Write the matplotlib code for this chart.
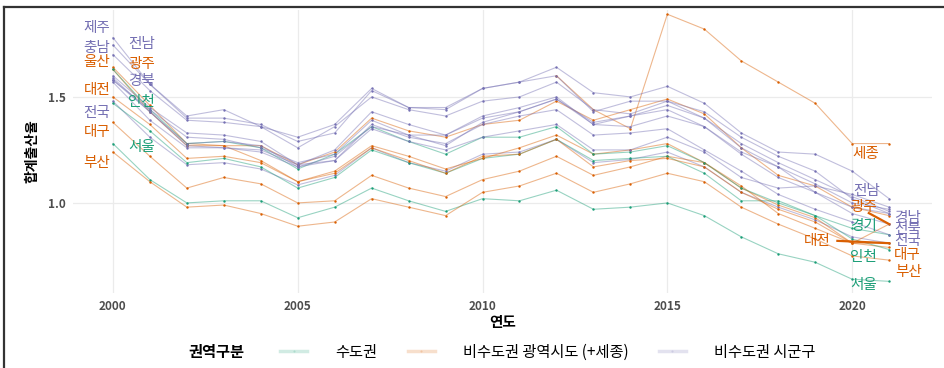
import matplotlib
matplotlib.use("Agg")
import matplotlib.pyplot as plt
from matplotlib.lines import Line2D
import numpy as np

plt.rcParams['font.family'] = ['Noto Sans CJK KR', 'DejaVu Sans']

years = list(range(2000, 2022))

# 합계출산율, 2000-2021
jeonguk = [1.48, 1.31, 1.18, 1.19, 1.16, 1.085, 1.13, 1.26, 1.19, 1.15, 1.23, 1.24, 1.30, 1.19, 1.205, 1.24, 1.17, 1.05, 0.98, 0.92, 0.84, 0.81]
seoul = [1.28, 1.11, 1.00, 1.01, 1.01, 0.93, 0.98, 1.07, 1.01, 0.96, 1.02, 1.01, 1.06, 0.97, 0.98, 1.00, 0.94, 0.84, 0.76, 0.72, 0.64, 0.63]
busan = [1.24, 1.10, 0.98, 0.99, 0.95, 0.89, 0.91, 1.02, 0.98, 0.94, 1.05, 1.08, 1.14, 1.05, 1.09, 1.14, 1.10, 0.98, 0.90, 0.83, 0.75, 0.73]
daegu = [1.38, 1.22, 1.07, 1.12, 1.09, 1.00, 1.01, 1.13, 1.07, 1.03, 1.11, 1.15, 1.22, 1.13, 1.17, 1.22, 1.19, 1.07, 0.99, 0.93, 0.81, 0.79]
incheon = [1.47, 1.34, 1.19, 1.21, 1.17, 1.07, 1.12, 1.25, 1.19, 1.14, 1.21, 1.23, 1.30, 1.20, 1.21, 1.22, 1.14, 1.01, 1.01, 0.94, 0.83, 0.78]
gwangju = [1.63, 1.43, 1.27, 1.27, 1.20, 1.10, 1.14, 1.26, 1.20, 1.14, 1.22, 1.23, 1.30, 1.17, 1.20, 1.21, 1.17, 1.05, 0.97, 0.91, 0.81, 0.90]
daejeon = [1.50, 1.37, 1.21, 1.22, 1.19, 1.10, 1.15, 1.27, 1.22, 1.16, 1.21, 1.26, 1.32, 1.23, 1.25, 1.28, 1.19, 1.08, 0.95, 0.88, 0.81, 0.81]
ulsan = [1.64, 1.46, 1.28, 1.27, 1.27, 1.18, 1.24, 1.40, 1.34, 1.31, 1.37, 1.39, 1.48, 1.39, 1.44, 1.49, 1.42, 1.26, 1.13, 1.08, 0.98, 0.94]
sejong = [None] * 12 + [1.60, 1.44, 1.35, 1.89, 1.82, 1.67, 1.57, 1.47, 1.28, 1.28]
gyeonggi = [1.63, 1.44, 1.28, 1.29, 1.26, 1.16, 1.23, 1.36, 1.29, 1.23, 1.31, 1.31, 1.36, 1.23, 1.24, 1.27, 1.19, 1.07, 1.00, 0.94, 0.88, 0.85]
gangwon = [1.57, 1.39, 1.26, 1.26, 1.25, 1.18, 1.20, 1.35, 1.29, 1.25, 1.31, 1.34, 1.37, 1.25, 1.25, 1.31, 1.24, 1.12, 1.07, 1.08, 1.04, 0.98]
chungbuk = [1.58, 1.44, 1.31, 1.30, 1.26, 1.19, 1.23, 1.39, 1.32, 1.32, 1.40, 1.43, 1.49, 1.37, 1.36, 1.41, 1.36, 1.24, 1.17, 1.05, 0.98, 0.95]
chungnam = [1.70, 1.53, 1.39, 1.38, 1.36, 1.26, 1.36, 1.50, 1.44, 1.41, 1.48, 1.50, 1.57, 1.44, 1.42, 1.48, 1.40, 1.28, 1.19, 1.11, 1.03, 0.96]
jeonbuk = [1.58, 1.43, 1.27, 1.26, 1.24, 1.17, 1.20, 1.37, 1.31, 1.28, 1.37, 1.41, 1.44, 1.32, 1.33, 1.35, 1.25, 1.15, 1.04, 0.97, 0.91, 0.85]
jeonnam = [1.745, 1.56, 1.40, 1.40, 1.37, 1.29, 1.33, 1.53, 1.45, 1.45, 1.54, 1.57, 1.64, 1.52, 1.50, 1.55, 1.47, 1.33, 1.24, 1.23, 1.15, 1.02]
gyeongbuk = [1.59, 1.43, 1.28, 1.29, 1.27, 1.17, 1.22, 1.36, 1.32, 1.27, 1.38, 1.43, 1.49, 1.38, 1.41, 1.46, 1.40, 1.26, 1.17, 1.09, 1.00, 0.97]
gyeongnam = [1.60, 1.45, 1.33, 1.32, 1.29, 1.18, 1.25, 1.43, 1.37, 1.32, 1.41, 1.45, 1.50, 1.37, 1.41, 1.44, 1.36, 1.23, 1.12, 1.05, 0.95, 0.90]
jeju = [1.78, 1.56, 1.41, 1.44, 1.36, 1.31, 1.37, 1.54, 1.45, 1.44, 1.54, 1.57, 1.60, 1.43, 1.48, 1.48, 1.43, 1.31, 1.22, 1.15, 1.02, 0.95]

regions = ['전국', '서울', '부산', '대구', '인천', '광주', '대전', '울산', '세종', '경기',
           '강원', '충북', '충남', '전북', '전남', '경북', '경남', '제주']
series = [jeonguk, seoul, busan, daegu, incheon, gwangju, daejeon, ulsan, sejong, gyeonggi,
          gangwon, chungbuk, chungnam, jeonbuk, jeonnam, gyeongbuk, gyeongnam, jeju]
groups = ['시군구', '수도권', '광역', '광역', '수도권', '광역', '광역', '광역', '광역', '수도권',
          '시군구', '시군구', '시군구', '시군구', '시군구', '시군구', '시군구', '시군구']

group_names = ['수도권', '광역', '시군구']
group_labels = ['수도권', '비수도권 광역시도 (+세종)', '비수도권 시군구']
colors = {'수도권': '#1B9E77', '광역': '#D95F02', '시군구': '#7570B3'}

# label placement (year, value) like ggrepel put them
start_labels = {'제주': (1999.57, 1.825), '충남': (1999.57, 1.731), '울산': (1999.57, 1.665),
                '대전': (1999.57, 1.533), '전국': (1999.57, 1.425), '대구': (1999.57, 1.335),
                '부산': (1999.57, 1.189), '전남': (2000.78, 1.75), '광주': (2000.78, 1.656),
                '경북': (2000.78, 1.575), '인천': (2000.78, 1.476), '서울': (2000.78, 1.264)}
end_labels = {'세종': (2020.38, 1.231), '전남': (2020.38, 1.057), '광주': (2020.3, 0.981),
              '경기': (2020.3, 0.892), '대전': (2019.05, 0.821), '인천': (2020.3, 0.745),
              '서울': (2020.3, 0.613), '경남': (2021.49, 0.93), '전북': (2021.49, 0.876),
              '전국': (2021.49, 0.822), '대구': (2021.49, 0.755), '부산': (2021.52, 0.675)}
leader = {'광주': (2020.45, 0.952), '대전': (2019.6, 0.821)}

fig = plt.figure(figsize=(9.44, 3.68), dpi=100)
ax = fig.add_axes([0.0773, 0.2038, 0.91, 0.769])

for name, vals, g in zip(regions, series, groups):
    yrs = [y for y, v in zip(years, vals) if v is not None]
    vv = [v for v in vals if v is not None]
    c = colors[g]
    ax.plot(yrs, vv, color=c, lw=0.8, alpha=0.45, zorder=2)
    ax.scatter(yrs, vv, s=3, color=c, zorder=3, linewidths=0)

for name, (lx, ly) in start_labels.items():
    c = colors[groups[regions.index(name)]]
    ax.text(lx, ly, name, color=c, fontsize=10.5, ha='center', va='center', zorder=5)

for name, (lx, ly) in end_labels.items():
    i = regions.index(name)
    c = colors[groups[i]]
    ax.text(lx, ly, name, color=c, fontsize=10.5, ha='center', va='center', zorder=5)
    if name in leader:
        sx, sy = leader[name]
        ax.plot([sx, years[-1]], [sy, series[i][-1]], color=c, lw=1.6, zorder=4)

ax.set_xlim(1998.92, 2022.16)
ax.set_ylim(0.575, 1.91)
ax.set_xticks([2000, 2005, 2010, 2015, 2020])
ax.set_yticks([1.0, 1.5])
ax.set_yticklabels(['1.0', '1.5'])
ax.grid(True, color='#EBEBEB', lw=0.9)
ax.set_axisbelow(True)
for s in ax.spines.values():
    s.set_visible(False)
ax.tick_params(length=0, labelsize=8.5, labelcolor='#4D4D4D', pad=5)
for lab in ax.get_xticklabels() + ax.get_yticklabels():
    lab.set_fontweight('bold')
ax.set_xlabel('연도', fontsize=10.5, fontweight='bold', labelpad=1)
ax.set_ylabel('합계출산율', fontsize=10, fontweight='bold', labelpad=6)

handles = [Line2D([0], [0], color=colors[g], lw=2.5, alpha=0.2, marker='o',
                  markersize=1.5, markerfacecolor=colors[g], markeredgewidth=0)
           for g in group_names]
fig.legend(handles, group_labels, loc='center', bbox_to_anchor=(0.58, 0.043), ncol=3,
           frameon=False, fontsize=11, handlelength=1.8, handletextpad=1.8,
           columnspacing=2.0)
fig.text(0.229, 0.043, '권역구분', fontsize=11, fontweight='bold', ha='center', va='center')

# screenshot frame on top and left
fig.add_artist(Line2D([4 / 944, 1], [1 - 7 / 368, 1 - 7 / 368], color='#333333', lw=1.6))
fig.add_artist(Line2D([4 / 944, 4 / 944], [0, 1 - 7 / 368], color='#333333', lw=1.6))

fig.savefig('out.png', dpi=100)
